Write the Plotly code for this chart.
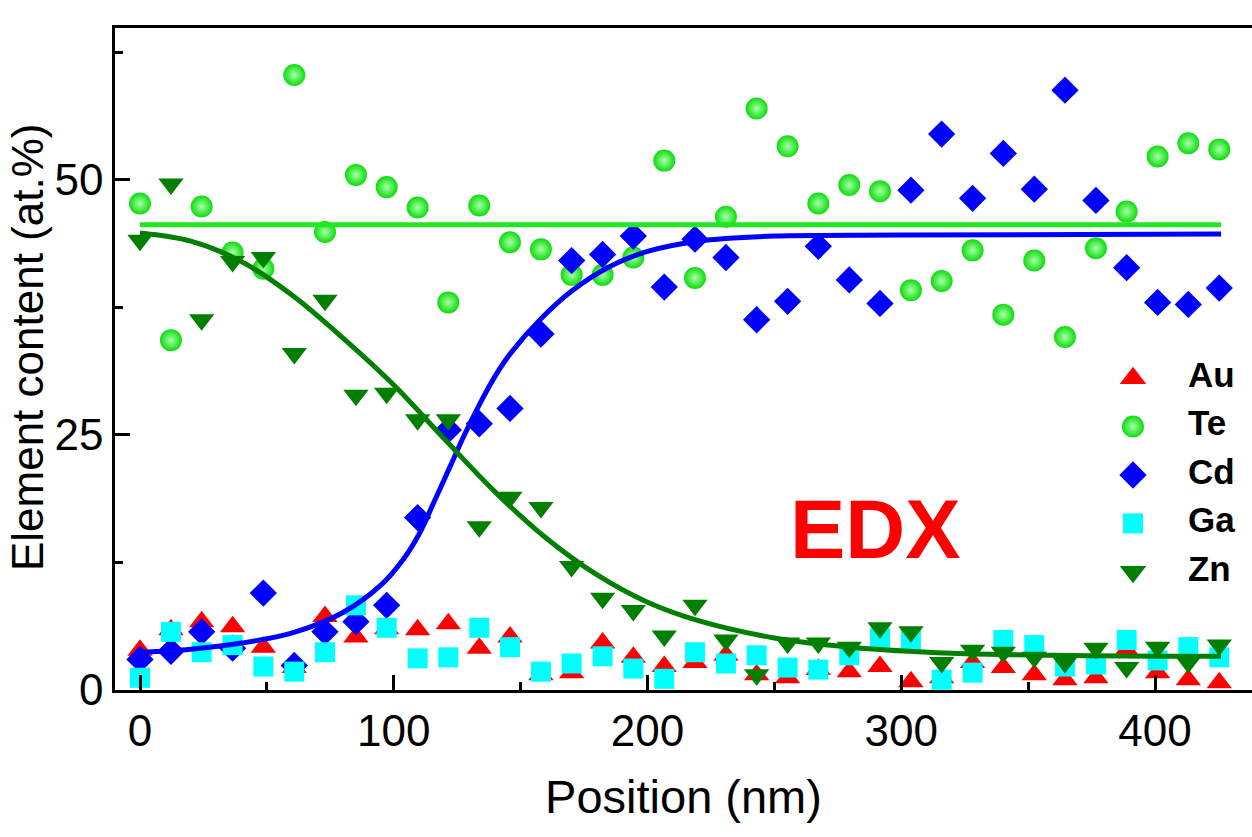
import plotly.graph_objects as go

# ---------------- data ----------------
position = [0, 12.2, 24.3, 36.5, 48.6, 60.8, 72.9, 85.1, 97.2, 109.4, 121.5, 133.7,
            145.8, 158.0, 170.1, 182.3, 194.4, 206.6, 218.7, 230.9, 243.0, 255.2,
            267.3, 279.5, 291.6, 303.8, 315.9, 328.1, 340.2, 352.4, 364.5, 376.7,
            388.8, 401.0, 413.1, 425.3]

au = [3.9, 5.9, 6.7, 6.2, 4.2, 2.2, 7.2, 5.2, 6.0, 5.9, 6.5, 4.1, 5.2, 1.5, 1.7, 4.6,
      3.2, 2.3, 2.7, 3.4, 1.5, 1.2, 2.0, 1.8, 2.3, 0.8, 1.2, 2.7, 2.2, 1.5, 1.0, 1.2,
      3.9, 1.7, 1.0, 0.7]
te = [47.7, 34.3, 47.4, 42.9, 41.3, 60.3, 44.9, 50.5, 49.3, 47.3, 38.0, 47.5, 43.9,
      43.2, 40.7, 40.7, 42.4, 51.9, 40.4, 46.4, 57.0, 53.3, 47.7, 49.5, 48.9, 39.2,
      40.1, 43.1, 36.8, 42.1, 34.6, 43.3, 46.9, 52.3, 53.6, 53.0]
cd = [3.0, 3.8, 5.7, 4.1, 9.5, 2.4, 5.7, 6.7, 8.3, 16.9, 25.5, 26.1, 27.6, 34.9, 42.1,
      42.7, 44.5, 39.5, 44.2, 42.4, 36.3, 38.1, 43.5, 40.2, 37.9, 49.0, 54.5, 48.2,
      52.6, 49.1, 58.8, 48.0, 41.4, 38.0, 37.8, 39.4]
ga = [1.2, 5.7, 3.7, 4.4, 2.3, 1.8, 3.7, 8.3, 6.1, 3.1, 3.2, 6.1, 4.2, 1.8, 2.6, 3.3,
      2.1, 1.1, 3.7, 2.6, 3.4, 2.2, 2.0, 3.4, 5.1, 4.9, 1.0, 1.7, 4.9, 4.4, 2.3, 2.5,
      4.9, 2.9, 4.2, 3.2]
zn = [44.1, 49.6, 36.3, 42.0, 42.4, 33.0, 38.2, 28.9, 29.1, 26.5, 26.5, 16.0, 18.9,
      17.9, 12.1, 9.0, 7.8, 5.3, 8.3, 4.9, 1.5, 4.6, 4.6, 4.2, 6.1, 5.7, 2.7, 3.9, 3.7,
      3.2, 2.7, 4.1, 2.2, 4.2, 2.7, 4.4]

# fitted curves
te_fit_x = [0, 426]
te_fit_y = [45.6, 45.6]
cd_fit_x = [0, 20, 40, 60, 80, 95, 104, 110, 116, 122, 128, 134, 140, 146, 158, 170,
            185, 200, 220, 250, 300, 426]
cd_fit_y = [3.7, 4.0, 4.6, 5.6, 7.6, 10.3, 12.9, 15.3, 18.5, 21.8, 25.1, 28.1, 30.8,
            33.0, 36.4, 39.1, 41.5, 43.0, 44.0, 44.5, 44.6, 44.7]
zn_fit_x = [0, 20, 40, 60, 80, 100, 120, 140, 160, 180, 200, 220, 250, 280, 320, 360, 400, 426]
zn_fit_y = [44.8, 44.0, 42.0, 38.7, 34.5, 29.9, 24.6, 19.4, 14.9, 11.3, 8.6, 6.8, 5.1,
            4.2, 3.6, 3.4, 3.3, 3.3]

elements = ["Au", "Te", "Cd", "Ga", "Zn"]
x_ticks = [0, 100, 200, 300, 400]
y_ticks = [0, 25, 50]

# ---------------- styles ----------------
FONT = "Liberation Sans, Arial, Helvetica, sans-serif"
styles = {
    "Au": dict(symbol="triangle-up", color="#ff0000", size=22),
    "Te": dict(symbol="circle", color="#0cdc0c", size=22,
               gradient=dict(type="radial", color="#a8ffa8")),
    "Cd": dict(symbol="diamond", color="#0000ff", size=21),
    "Ga": dict(symbol="square", color="#00ffff", size=20),
    "Zn": dict(symbol="triangle-down", color="#007f00", size=22),
}
series = {"Au": au, "Te": te, "Cd": cd, "Ga": ga, "Zn": zn}

fig = go.Figure()

for name in elements:
    st = styles[name]
    mk = dict(symbol=st["symbol"], color=st["color"], size=st["size"], line=dict(width=0))
    if "gradient" in st:
        mk["gradient"] = st["gradient"]
    fig.add_trace(go.Scatter(x=position, y=series[name], mode="markers", name=name,
                             marker=mk, cliponaxis=False, showlegend=False))

fig.add_trace(go.Scatter(x=te_fit_x, y=te_fit_y, mode="lines", showlegend=False,
                         line=dict(color="#22e622", width=5)))
fig.add_trace(go.Scatter(x=cd_fit_x, y=cd_fit_y, mode="lines", showlegend=False,
                         line=dict(color="#0000ff", width=5, shape="spline", smoothing=1)))
fig.add_trace(go.Scatter(x=zn_fit_x, y=zn_fit_y, mode="lines", showlegend=False,
                         line=dict(color="#007f00", width=5, shape="spline", smoothing=1)))

# legend drawn in its own small axes
leg_sizes = {"Au": 23, "Te": 22, "Cd": 21, "Ga": 20, "Zn": 23}
for i, name in enumerate(elements):
    st = styles[name]
    mk = dict(symbol=st["symbol"], color=st["color"], size=leg_sizes[name], line=dict(width=0))
    if "gradient" in st:
        mk["gradient"] = st["gradient"]
    fig.add_trace(go.Scatter(x=[33], y=[i], mode="markers", marker=mk, xaxis="x2",
                             yaxis="y2", showlegend=False, hoverinfo="skip"))
fig.add_trace(go.Scatter(x=[88] * len(elements), y=list(range(len(elements))),
                         mode="text", text=["<b>%s</b>" % e for e in elements],
                         textposition="middle right",
                         textfont=dict(family=FONT, size=35, color="#000000"),
                         xaxis="x2", yaxis="y2", showlegend=False, hoverinfo="skip"))

axis_common = dict(showline=True, linecolor="#000000", linewidth=2.5, ticks="inside",
                   tickcolor="#000000", tickwidth=2.5, ticklen=15, showgrid=False,
                   zeroline=False, tickfont=dict(family=FONT, size=44, color="#000000"))

fig.update_layout(
    width=1252, height=837,
    margin=dict(l=115, r=0, t=28, b=147),
    paper_bgcolor="white", plot_bgcolor="white",
    xaxis=dict(range=[-9.85, 438.2], tickvals=x_ticks, mirror=True,
               minor=dict(ticks="inside", ticklen=8, tickwidth=2.5, tickcolor="#000000",
                          dtick=50, tick0=0),
               title=dict(text="Position (nm)", font=dict(family=FONT, size=47, color="#000000"),
                          standoff=27),
               **axis_common),
    yaxis=dict(range=[0, 64.9], tickvals=y_ticks, mirror=False,
               minor=dict(ticks="inside", ticklen=8, tickwidth=2.5, tickcolor="#000000",
                          dtick=12.5, tick0=0),
               **axis_common),
    xaxis2=dict(domain=[0.8663, 1.0], range=[0, 152], visible=False, anchor="y2"),
    yaxis2=dict(domain=[0.142, 0.5076], range=[4.5, -0.5], visible=False, anchor="x2"),
    showlegend=False,
)

fig.add_annotation(text="Element content (at.%)", textangle=-90, xref="paper", yref="paper",
                   x=-0.0774, y=0.518, xanchor="center", yanchor="middle", showarrow=False,
                   font=dict(family=FONT, size=44, color="#000000"))
fig.add_annotation(text="<b>EDX</b>", xref="x", yref="y", x=289.7, y=15.7,
                   xanchor="center", yanchor="middle", showarrow=False,
                   font=dict(family=FONT, size=83, color="#ff0000"))

fig.write_html("out.html")
